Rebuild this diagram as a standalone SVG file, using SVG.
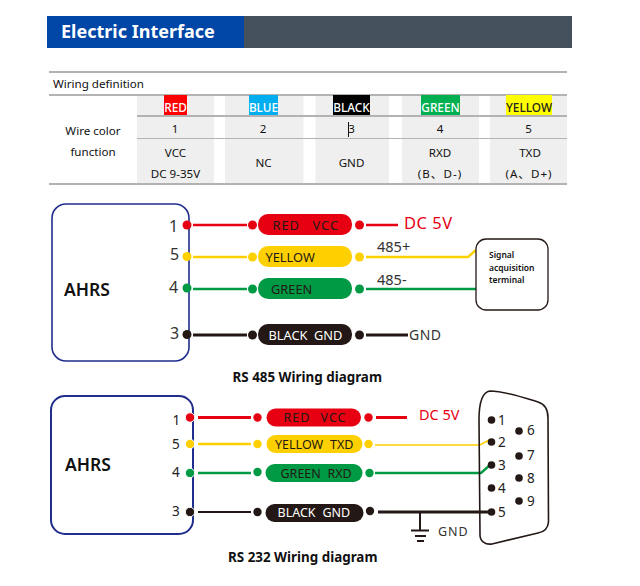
<svg xmlns="http://www.w3.org/2000/svg" width="640" height="586" viewBox="0 0 640 586">
<style>
text{font-family:"Noto Sans","Noto Sans CJK SC",sans-serif;fill:#222}
.c{text-anchor:middle}
.t{font-size:11.6px;fill:#111}
.chip{font-size:11.8px;font-weight:500;text-anchor:middle;fill:#fff}
.cell{fill:#efefef}
.rule{stroke:#b3b3b3;fill:none}
.pin{font-size:16px;fill:#333}
.p2{font-size:13.5px;fill:#222}
.lbl{font-size:12.8px;fill:#231815}
.l2{font-size:12.5px;fill:#231815}
.r{fill:#e60012}.y{fill:#ffd000}.g{fill:#009a44}.k{fill:#231815}
.wr{stroke:#e60012}.wy{stroke:#ffd000}.wg{stroke:#009a44}.wk{stroke:#231815}
.w{fill:none;stroke-width:2.4}
.box{fill:#fff;stroke:#1f2d8c;stroke-width:1.6}
.b{font-weight:700;fill:#111;font-size:13.4px}
.db{font-size:13.5px;fill:#222}
.h{stroke:#fff;stroke-width:1}
</style>
<g id="header">
<rect x="47" y="16" width="197" height="32" fill="#0046a6"/>
<rect x="244" y="16" width="328" height="32" fill="#44505c"/>
<text x="61" y="38" font-size="18" font-weight="700" style="fill:#fff">Electric Interface</text>
</g>
<g id="table">
<rect class="cell" x="137" y="95" width="77" height="89"/>
<rect class="cell" x="225" y="95" width="78.500" height="89"/>
<rect class="cell" x="315.500" y="95" width="73.500" height="89"/>
<rect class="cell" x="402" y="95" width="77" height="89"/>
<rect class="cell" x="490" y="95" width="77" height="89"/>
<path class="rule" stroke-width="2" d="M49 72H567M49 95H567M137 116H567M49 184H567"/>
<path class="rule" stroke-width="1" d="M137 138.500H567"/>
<text class="t" x="53" y="88">Wiring definition</text>
<text class="t c" x="93" y="135">Wire color</text>
<text class="t c" x="93" y="156">function</text>
<rect x="164" y="95" width="23" height="20" fill="#ff0000"/><text class="chip" x="175.500" y="112">RED</text>
<rect x="249" y="95" width="29" height="20" fill="#00aeef"/><text class="chip" x="263.500" y="112">BLUE</text>
<rect x="333" y="95" width="37" height="20" fill="#000"/><text class="chip" x="351.500" y="112">BLACK</text>
<rect x="421" y="95" width="39" height="20" fill="#00b050"/><text class="chip" x="440.500" y="112">GREEN</text>
<rect x="506" y="95" width="46" height="20" fill="#ffff00"/><text class="chip" x="529" y="112" style="fill:#222">YELLOW</text>
<text class="t c" x="175" y="133">1</text><text class="t c" x="263" y="133">2</text><text class="t c" x="351.500" y="133">3</text><text class="t c" x="440" y="133">4</text><text class="t c" x="528.500" y="133">5</text>
<path d="M348.500 122V137" stroke="#111" fill="none"/>
<text class="t c" x="175.500" y="157">VCC</text><text class="t c" x="175.500" y="178">DC 9-35V</text>
<text class="t c" x="263.500" y="167">NC</text><text class="t c" x="351.500" y="167">GND</text>
<text class="t c" x="440" y="157">RXD</text><text class="t c" x="440" y="178" letter-spacing="1">(B、D-)</text>
<text class="t c" x="530" y="157">TXD</text><text class="t c" x="529" y="178" letter-spacing="1">(A、D+)</text>
</g>
<g id="connectors">
<path class="w wr" d="M193 225H247M366 225H398"/>
<path class="w wy" d="M193 257H247M366 257H468L476 250"/>
<path class="w wg" d="M193 289H247M366 289H476"/>
<path class="w wk" style="stroke-width:3" d="M193 335H247M366 335H408"/>
<path class="w wr" style="stroke-width:3" d="M198 417.500H251M376 417.500H407"/>
<path class="w wy" d="M198 444H251"/>
<path class="w wy" style="stroke-width:1.600" d="M375 445H480L489 440"/>
<path class="w wg" d="M198 473H251M375 473H481L490 465"/>
<path class="w wk" style="stroke-width:2" d="M198 512H251"/>
<path class="w wk" style="stroke-width:3" d="M378 512H492"/>
<path class="w wk" style="stroke-width:2" d="M420 512V530M411 530.500H429M415 536H426M417 541H424"/>
</g>
<g id="ahrs-485">
<rect class="box" x="52" y="204" width="137" height="157" rx="14"/>
<text x="64" y="296" font-size="17.500" font-weight="600" style="fill:#111">AHRS</text>
<text class="pin" x="169" y="232">1</text><text class="pin" x="170" y="260">5</text><text class="pin" x="169" y="293">4</text><text class="pin" x="170" y="339">3</text>
<circle class="r" cx="187" cy="225" r="4.500"/><circle class="y" cx="187" cy="256.500" r="4.500"/><circle class="g" cx="187" cy="288" r="4.500"/><circle class="k" cx="187" cy="334.500" r="4.500"/>
</g>
<g id="wires-485">
<circle class="r" cx="252.500" cy="225" r="4.500"/><circle class="y" cx="252.500" cy="257" r="4.500"/><circle class="g" cx="252.500" cy="289" r="4.500"/><circle class="k" cx="252.500" cy="335" r="4.500"/>
<circle class="r" cx="359.500" cy="225" r="4.500"/><circle class="y" cx="359.500" cy="257" r="4.500"/><circle class="g" cx="359.500" cy="289" r="4.500"/><circle class="k" cx="359.500" cy="335" r="4.500"/>
<rect class="r" x="258" y="214" width="94" height="21" rx="10"/>
<rect class="y" x="258" y="246" width="94" height="21" rx="10"/>
<rect class="g" x="258" y="278" width="94" height="21" rx="10"/>
<rect class="k" x="258" y="324" width="94" height="21" rx="10"/>
<text class="lbl" y="230" letter-spacing="1"><tspan x="272.500">RED</tspan><tspan x="312.500">VCC</tspan></text>
<text class="lbl" x="265.500" y="262">YELLOW</text>
<text class="lbl" x="271" y="293.500">GREEN</text>
<text class="lbl" y="339.500" style="fill:#fff"><tspan x="268.500">BLACK</tspan><tspan x="314">GND</tspan></text>
<text x="404" y="229" font-size="16.500" style="fill:#e60012" letter-spacing=".5">DC 5V</text>
<text x="377" y="251.500" font-size="14.500" style="fill:#333">485+</text>
<text x="377" y="285" font-size="14.500" style="fill:#333">485-</text>
<text x="409" y="340" font-size="14" style="fill:#333" letter-spacing=".5">GND</text>
</g>
<g id="terminal">
<rect x="476" y="239" width="72" height="71" rx="10" fill="#fff" stroke="#231815" stroke-width="1.300"/>
<text x="489" y="258" font-size="8.500" font-weight="600" style="fill:#111">Signal</text>
<text x="489" y="271" font-size="8.500" font-weight="600" style="fill:#111">acquisition</text>
<text x="489" y="283" font-size="8.500" font-weight="600" style="fill:#111">terminal</text>
</g>
<text class="b" x="232.500" y="382">RS 485 Wiring diagram</text>
<g id="ahrs-232">
<rect class="box" x="51" y="396" width="142" height="138" rx="14" style="stroke-width:2"/>
<text x="65" y="471" font-size="17.500" font-weight="600" style="fill:#111">AHRS</text>
<text class="p2" x="172.500" y="425">1</text><text class="p2" x="172" y="449">5</text><text class="p2" x="172" y="477">4</text><text class="p2" x="172" y="516">3</text>
<g class="h"><circle class="r" cx="190" cy="417.500" r="4.700"/><circle class="y" cx="190" cy="444" r="4.700"/><circle class="g" cx="190" cy="473" r="4.700"/><circle class="k" cx="190" cy="512" r="4.700"/></g>
</g>
<g id="wires-232">
<circle class="r" cx="257.500" cy="417.500" r="4.200"/><circle class="y" cx="257.500" cy="444" r="4.200"/><circle class="g" cx="257.500" cy="472" r="4.200"/><circle class="k" cx="257.500" cy="512" r="4.200"/>
<circle class="r" cx="368.500" cy="417.500" r="4.200"/><circle class="y" cx="368.500" cy="444" r="4.200"/><circle class="g" cx="369.500" cy="473" r="4.200"/><circle class="k" cx="370" cy="511" r="4.200"/>
<rect class="r" x="266.500" y="408.500" width="94.500" height="18" rx="9"/>
<rect class="y" x="266.500" y="435" width="96" height="18" rx="9"/>
<rect class="g" x="265.500" y="464" width="97" height="18" rx="9"/>
<rect class="k" x="265.500" y="504" width="98" height="18" rx="9"/>
<text class="l2" y="422" letter-spacing="1"><tspan x="283.500">RED</tspan><tspan x="320.500">VCC</tspan></text>
<text class="l2" y="448.500"><tspan x="275">YELLOW</tspan><tspan x="330">TXD</tspan></text>
<text class="l2" y="477.500"><tspan x="280.500">GREEN</tspan><tspan x="327.500">RXD</tspan></text>
<text class="l2" y="517" style="fill:#fff"><tspan x="277.500">BLACK</tspan><tspan x="322.500">GND</tspan></text>
<text x="419" y="420" font-size="14.500" style="fill:#e60012">DC 5V</text>
<text x="438" y="536" font-size="12.500" style="fill:#333" letter-spacing="1">GND</text>
</g>
<g id="db9">
<path d="M490 391C505 391 525 398 538 402C545 404 548 410 548 418L548.500 522C548 528 544 532 538 533L492 544C485 545 480 541 480 535L479 420C479 405 482 392 490 391Z" fill="none" stroke="#231815" stroke-width="1.600"/>
<g class="k"><circle cx="491.500" cy="420" r="3.800"/><circle cx="491.500" cy="442" r="3.800"/><circle cx="491.500" cy="465" r="3.800"/><circle cx="491.500" cy="488" r="3.800"/><circle cx="491.500" cy="512" r="3.800"/><circle cx="519" cy="431" r="3.800"/><circle cx="519" cy="456" r="3.800"/><circle cx="519" cy="478" r="3.800"/><circle cx="519" cy="501" r="3.800"/></g>
<text class="db" x="498" y="425">1</text><text class="db" x="498" y="447">2</text><text class="db" x="498" y="470">3</text><text class="db" x="498" y="493">4</text><text class="db" x="498" y="517">5</text>
<text class="db" x="527" y="435">6</text><text class="db" x="527" y="460">7</text><text class="db" x="527" y="483">8</text><text class="db" x="527" y="506">9</text>
</g>
<text class="b" x="228" y="562">RS 232 Wiring diagram</text>
</svg>
